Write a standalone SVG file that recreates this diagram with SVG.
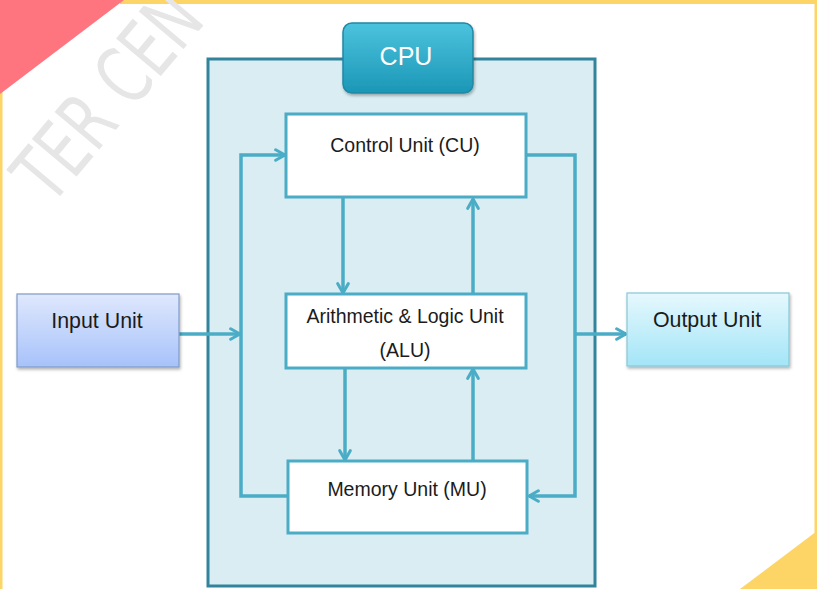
<svg xmlns="http://www.w3.org/2000/svg" width="817" height="589" viewBox="0 0 817 589">
<style>
.frame{fill:#fdd466}
.box{fill:#ffffff;stroke:#4bacc6;stroke-width:3}
.lbl{font-family:"Liberation Sans",Arial,sans-serif;font-size:19.5px;fill:#1b1b1b;text-anchor:middle}
.big{font-size:21.4px}
.arr{fill:none;stroke:#4bacc6;stroke-width:3.5;marker-end:url(#ah)}
.wm{font-family:"DejaVu Sans",sans-serif;font-size:80px;fill:#e6e6e6}
</style>
<defs>
<marker id="ah" viewBox="0 0 12 12" refX="10" refY="6" markerWidth="14" markerHeight="14" markerUnits="userSpaceOnUse" orient="auto">
<path d="M2,1.5 L10,6 L2,10.5" fill="none" stroke="#4bacc6" stroke-width="2.6" stroke-linecap="round" stroke-linejoin="round"/>
</marker>
<linearGradient id="gIn" x1="0" y1="0" x2="0" y2="1">
<stop offset="0" stop-color="#dfe8fd"/><stop offset="1" stop-color="#a7c2fa"/>
</linearGradient>
<linearGradient id="gOut" x1="0" y1="0" x2="0" y2="1">
<stop offset="0" stop-color="#e6f8fd"/><stop offset="1" stop-color="#a3e5f7"/>
</linearGradient>
<linearGradient id="gCpu" x1="0" y1="0" x2="0" y2="1">
<stop offset="0" stop-color="#4cc3de"/><stop offset="1" stop-color="#1b97b6"/>
</linearGradient>
<filter id="sh" x="-10%" y="-10%" width="130%" height="140%">
<feDropShadow dx="1" dy="2" stdDeviation="1.5" flood-color="#000" flood-opacity="0.3"/>
</filter>
</defs>

<!-- page frame -->
<rect x="0" y="0" width="817" height="589" fill="#ffffff"/>
<rect class="frame" x="120" y="0" width="697" height="4"/>
<rect class="frame" x="0" y="90" width="2.5" height="499"/>
<rect class="frame" x="814.5" y="0" width="2.5" height="535"/>
<polygon points="0,0 124,0 0,94" fill="#fe7580"/>
<polygon class="frame" points="817,531 817,589 740,589"/>

<!-- watermark -->
<text class="wm" transform="translate(51,207) rotate(-50) scale(0.7,1)">TER CEN</text>

<!-- CPU container -->
<g id="cpu">
<rect x="208" y="59" width="387" height="527" fill="#daedf3" stroke="#31849b" stroke-width="3"/>
<rect x="343" y="23" width="130" height="70" rx="9" fill="url(#gCpu)" stroke="#2088a4" stroke-width="1.5" filter="url(#sh)"/>
<text x="406" y="65" font-family="'Liberation Sans',Arial,sans-serif" font-size="25" fill="#ffffff" text-anchor="middle">CPU</text>
</g>

<!-- connectors -->
<g id="connectors">
<line class="arr" x1="179" y1="334" x2="240" y2="334"/>
<polyline class="arr" points="287,496 241,496 241,155 285,155"/>
<line class="arr" x1="343" y1="198" x2="343" y2="293"/>
<line class="arr" x1="473" y1="294" x2="473" y2="199"/>
<line class="arr" x1="345" y1="369" x2="345" y2="460"/>
<line class="arr" x1="473" y1="461" x2="473" y2="369"/>
<polyline class="arr" points="526,155 575,155 575,496 529,496"/>
<line class="arr" x1="575" y1="334" x2="626" y2="334"/>
</g>

<g id="cu">
<rect class="box" x="286" y="114" width="240" height="83"/>
<text class="lbl" x="405" y="152">Control Unit (CU)</text>
</g>
<g id="alu">
<rect class="box" x="286" y="294" width="240" height="74"/>
<text class="lbl" x="405" y="323">Arithmetic &amp; Logic Unit</text>
<text class="lbl" x="405" y="357">(ALU)</text>
</g>
<g id="mu">
<rect class="box" x="288" y="461" width="239" height="72"/>
<text class="lbl" x="407" y="496">Memory Unit (MU)</text>
</g>
<g id="input">
<rect x="17" y="294" width="162" height="73" fill="url(#gIn)" stroke="#7f9bc8" stroke-width="1.2" filter="url(#sh)"/>
<text class="lbl big" x="97" y="328">Input Unit</text>
</g>
<g id="output">
<rect x="627" y="293" width="162" height="73" fill="url(#gOut)" stroke="#86c8d8" stroke-width="1.2" filter="url(#sh)"/>
<text class="lbl big" x="707" y="327">Output Unit</text>
</g>
</svg>
